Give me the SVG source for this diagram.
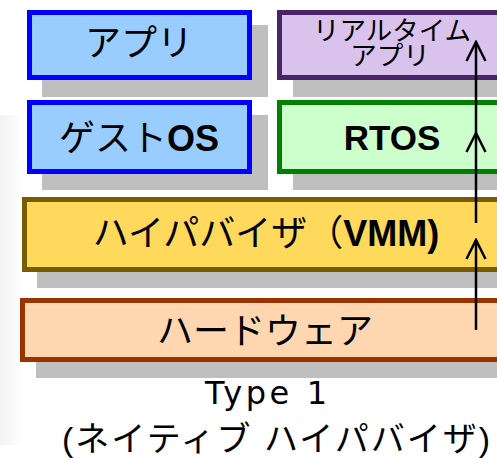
<svg xmlns="http://www.w3.org/2000/svg" width="497" height="458" viewBox="0 0 497 458">
<defs>
<linearGradient id="bgl" x1="0" y1="0" x2="1" y2="0">
<stop offset="0" stop-color="#f2f2f2"/>
<stop offset="1" stop-color="#ffffff"/>
</linearGradient>
<marker id="chev" viewBox="0 0 24 24" markerWidth="24" markerHeight="24" refX="22" refY="12" orient="auto" markerUnits="userSpaceOnUse">
<path d="M3,2.5 L22,12 L3,21.5" fill="none" stroke="#000" stroke-width="2.5"/>
</marker>
</defs>
<style>
.sh{fill:#bfbfbf}
.box{stroke-width:5}
.blue{fill:#99ccff;stroke:#0000ff}
.purple{fill:#d9c2ec;stroke:#4a2468}
.green{fill:#ccffcc;stroke:#008000}
.yellow{fill:#ffd95c;stroke:#7a5c00}
.orange{fill:#fed7b0;stroke:#993300}
.jp{font-family:"Liberation Sans","Noto Sans CJK JP",sans-serif;fill:#000;text-anchor:middle}
.b{font-weight:bold}
.cap{font-family:"DejaVu Sans","Noto Sans CJK JP",sans-serif;fill:#000;text-anchor:middle}
.conn{stroke:#000;stroke-width:2.5;fill:none;marker-end:url(#chev)}
</style>
<rect x="0" y="0" width="497" height="458" fill="#ffffff"/>
<rect x="0" y="115" width="22" height="330" fill="url(#bgl)"/>

<g id="app">
<rect class="sh" x="42" y="25" width="226" height="72"/>
<rect class="box blue" x="29.5" y="12.5" width="220" height="65"/>
<text class="jp" x="139" y="56" font-size="36">アプリ</text>
</g>
<g id="guestos">
<rect class="sh" x="42" y="115" width="226" height="75"/>
<rect class="box blue" x="29.5" y="102.5" width="220" height="69"/>
<text class="jp" x="139" y="151" font-size="36">ゲスト<tspan class="b">OS</tspan></text>
</g>
<g id="rtapp">
<rect class="sh" x="293" y="25" width="220" height="72"/>
<rect class="box purple" x="279.5" y="12.5" width="230" height="65"/>
<text class="jp" x="392" y="40" font-size="26.5">リアルタイム</text>
<text class="jp" x="390" y="64.5" font-size="26.5">アプリ</text>
</g>
<g id="rtos">
<rect class="sh" x="293" y="115" width="220" height="75"/>
<rect class="box green" x="279.5" y="102.5" width="230" height="69"/>
<text class="jp b" x="392" y="150" font-size="35">RTOS</text>
</g>
<g id="hypervisor">
<rect class="sh" x="37" y="212" width="470" height="76"/>
<rect class="box yellow" x="24.5" y="199.5" width="490" height="70"/>
<text class="jp" x="266" y="246" font-size="36">ハイパバイザ（<tspan class="b">VMM)</tspan></text>
</g>
<g id="hardware">
<rect class="sh" x="36" y="313" width="470" height="65"/>
<rect class="box orange" x="22.5" y="300.5" width="490" height="59"/>
<text class="jp" x="265" y="344" font-size="36">ハードウェア</text>
</g>
<g id="caption">
<text class="cap" x="266" y="404" font-size="32" textLength="122" lengthAdjust="spacing">Type 1</text>
<text class="jp" x="276" y="451" font-size="34" textLength="428" lengthAdjust="spacing">(ネイティブ ハイパバイザ)</text>
</g>
<g id="connectors">
<line class="conn" x1="476" y1="330" x2="476" y2="240"/>
<line class="conn" x1="476" y1="223" x2="476" y2="133"/>
<line class="conn" x1="476" y1="133" x2="476" y2="42"/>
</g>
</svg>
